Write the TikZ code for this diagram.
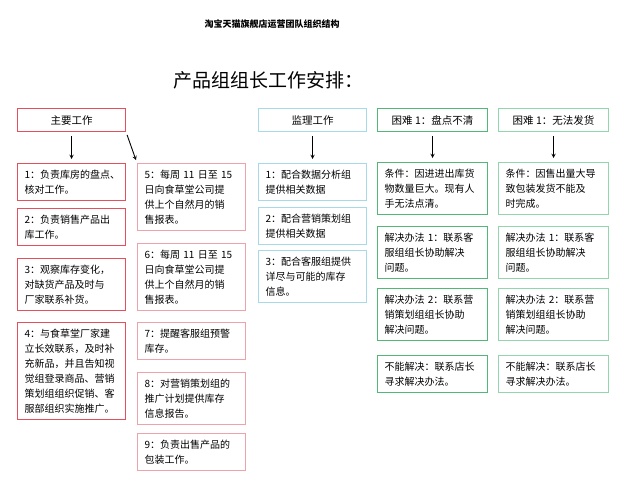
\documentclass[tikz,border=0pt]{standalone}
\usepackage{fontspec}
\setmainfont{Noto Sans CJK SC}
\definecolor{redline}{HTML}{E5505F}
\definecolor{pinkline}{HTML}{EDA3AB}
\definecolor{blueline}{HTML}{A6DAE6}
\definecolor{greenline}{HTML}{52B878}
\definecolor{mintline}{HTML}{93D6AE}
\begin{document}
\begin{tikzpicture}[x=1pt,y=-1pt,
	every node/.style={font=\fontsize{10}{15}\selectfont},
	card/.style={draw,line width=1.1pt,anchor=north west,align=left,text width=94pt,inner xsep=7pt,inner ysep=6.5pt},
	wide/.style={text width=96pt},
	head/.style={draw,line width=1.1pt,anchor=north west,minimum width=108pt,minimum height=23pt,inner sep=0pt,font=\fontsize{10.5}{12}\selectfont},
	arr/.style={->,>=stealth,line width=0.9pt,shorten <=4pt,shorten >=4pt}]
	\useasboundingbox (0,0) rectangle (640,479);
	% titles
	\node[font=\fontsize{9}{11}\selectfont\bfseries] (title) at (272,24) {淘宝天猫旗舰店运营团队组织结构};
	\node[font=\fontsize{19}{22}\selectfont] (subtitle) at (268,80) {产品组组长工作安排：};
	% main work
	\node[head,draw=redline] (main) at (17,108) {主要工作};
	\node[card,draw=redline] (m1) at (17,163) {1：负责库房的盘点、\\核对工作。};
	\node[card,draw=redline] (m2) at (17,208) {2：负责销售产品出\\库工作。};
	\node[card,draw=redline] (m3) at (17,258) {3：观察库存变化，\\对缺货产品及时与\\厂家联系补货。};
	\node[card,draw=redline] (m4) at (17,322) {4：与食草堂厂家建\\立长效联系，及时补\\充新品，并且告知视\\觉组登录商品、营销\\策划组组织促销、客\\服部组织实施推广。};
	\node[card,draw=pinkline] (m5) at (137,163) {5：每周 11 日至 15\\日向食草堂公司提\\供上个自然月的销\\售报表。};
	\node[card,draw=pinkline] (m6) at (137,243) {6：每周 11 日至 15\\日向食草堂公司提\\供上个自然月的销\\售报表。};
	\node[card,draw=pinkline] (m7) at (137,322) {7：提醒客服组预警\\库存。};
	\node[card,draw=pinkline] (m8) at (137,372) {8：对营销策划组的\\推广计划提供库存\\信息报告。};
	\node[card,draw=pinkline] (m9) at (137,433) {9：负责出售产品的\\包装工作。};
	% supervision
	\node[head,draw=blueline] (sup) at (258,108) {监理工作};
	\node[card,draw=blueline] (s1) at (258,163) {1：配合数据分析组\\提供相关数据};
	\node[card,draw=blueline] (s2) at (258,207) {2：配合营销策划组\\提供相关数据};
	\node[card,draw=blueline] (s3) at (258,250) {3：配合客服组提供\\详尽与可能的库存\\信息。};
	% difficulty: stock count
	\node[head,draw=greenline,minimum width=110pt] (dA) at (377,108) {困难 1：盘点不清};
	\node[card,wide,draw=greenline] (a1) at (377,162) {条件：因进进出库货\\物数量巨大。现有人\\手无法点清。};
	\node[card,wide,draw=greenline] (a2) at (377,226) {解决办法 1：联系客\\服组组长协助解决\\问题。};
	\node[card,wide,draw=greenline] (a3) at (377,288) {解决办法 2：联系营\\销策划组组长协助\\解决问题。};
	\node[card,wide,draw=greenline] (a4) at (377,355) {不能解决：联系店长\\寻求解决办法。};
	% difficulty: shipping
	\node[head,draw=mintline,minimum width=110pt] (dB) at (498,108) {困难 1：无法发货};
	\node[card,wide,draw=mintline] (b1) at (498,162) {条件：因售出量大导\\致包装发货不能及\\时完成。};
	\node[card,wide,draw=mintline] (b2) at (498,226) {解决办法 1：联系客\\服组组长协助解决\\问题。};
	\node[card,wide,draw=mintline] (b3) at (498,288) {解决办法 2：联系营\\销策划组组长协助\\解决问题。};
	\node[card,wide,draw=mintline] (b4) at (498,355) {不能解决：联系店长\\寻求解决办法。};
	% arrows
	\draw[arr] (main) -- (m1);
	\draw[arr,shorten <=3pt,shorten >=3pt] (main.south east) -- (m5.north west);
	\draw[arr] (sup) -- (s1);
	\draw[arr] (dA) -- (a1);
	\draw[arr] (dB) -- (b1);
\end{tikzpicture}
\end{document}
